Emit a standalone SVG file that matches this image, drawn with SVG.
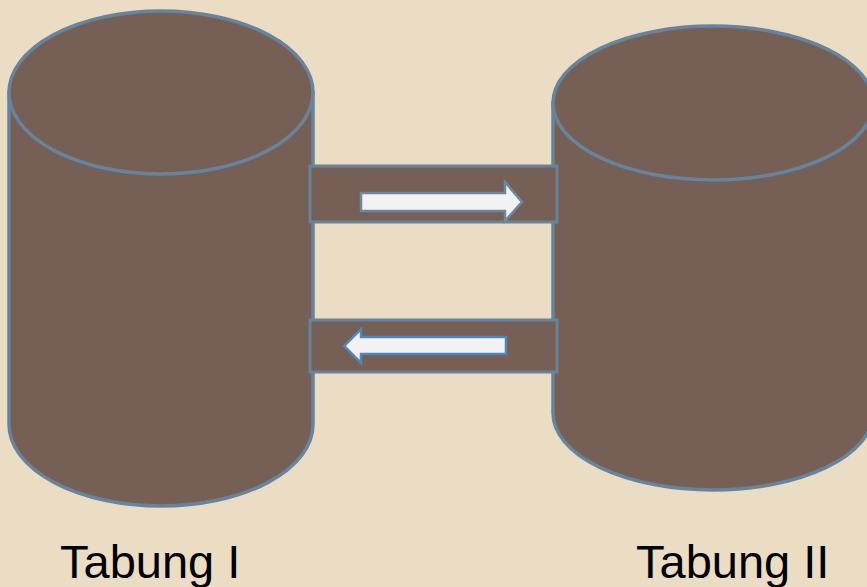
<svg xmlns="http://www.w3.org/2000/svg" width="867" height="587" viewBox="0 0 867 587">
  <style>
    .body { fill: #765F54; stroke: #66849D; stroke-width: 3.5; }
    .pipe { fill: #765F54; stroke: #66849D; stroke-width: 3; }
    .arrow { fill: #F2F2F2; stroke-width: 2.5; stroke-linejoin: miter; }
    .label { font-family: "Liberation Sans", Arial, sans-serif; font-size: 47px; fill: #000; }
  </style>
  <rect width="867" height="587" fill="#EADDC3"/>

  <g id="tabung-1">
    <path class="body" d="M 9 92.5 L 9 424.5 A 152 81.5 0 0 0 313 424.5 L 313 92.5 Z"/>
    <ellipse class="body" cx="161" cy="92.5" rx="152" ry="81.5"/>
  </g>

  <g id="tabung-2">
    <path class="body" d="M 553 103 L 553 413 A 160 77 0 0 0 873 413 L 873 103 Z"/>
    <ellipse class="body" cx="713" cy="103" rx="160" ry="77"/>
  </g>

  <g id="connectors">
    <rect class="pipe" x="310" y="166" width="247" height="56"/>
    <rect class="pipe" x="310" y="320" width="247" height="52"/>
    <path class="arrow" stroke="#6A89A0" d="M 361 193 L 505 193 L 505 182 L 522 202 L 505 221 L 505 211 L 361 211 Z"/>
    <path class="arrow" stroke="#4F86BB" d="M 506 337 L 361 337 L 361 329 L 344 346 L 361 363 L 361 354 L 506 354 Z"/>
  </g>

  <text class="label" x="60" y="578">Tabung I</text>
  <text class="label" x="636" y="578">Tabung II</text>
</svg>
